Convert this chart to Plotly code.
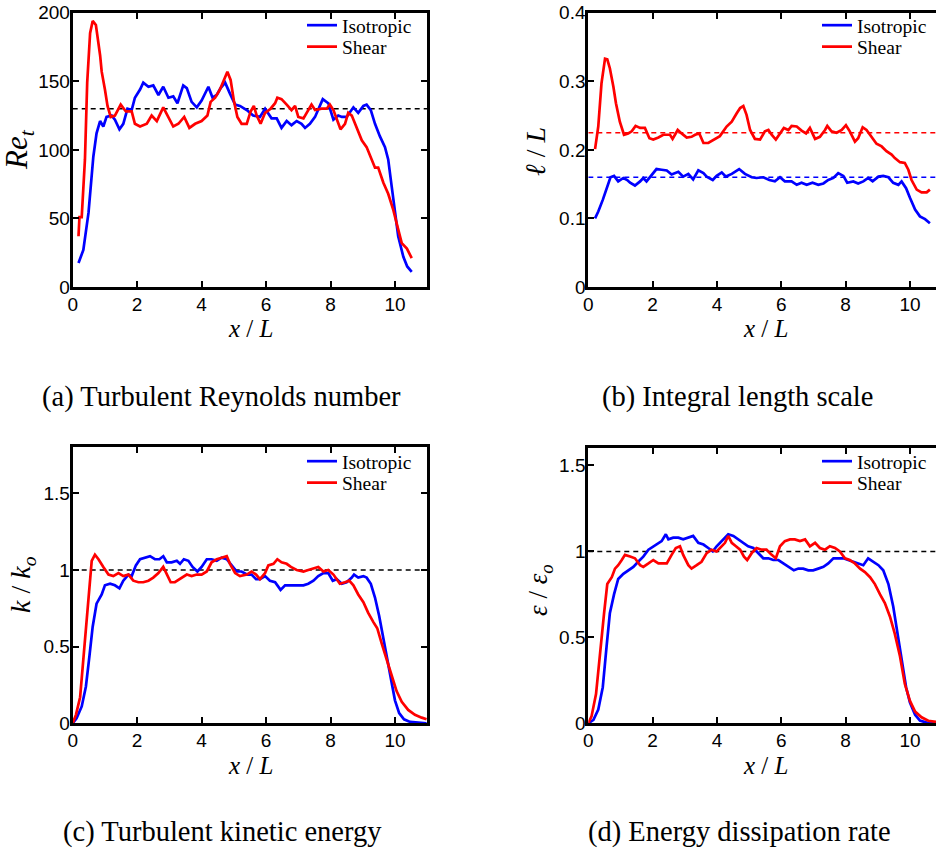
import plotly.graph_objects as go

# ---------------- data ----------------
# (a) Turbulent Reynolds number
x_re_iso = [0.18,0.33,0.49,0.64,0.74,0.85,0.95,1.05,1.21,1.31,1.45,1.57,1.70,1.83,1.93,2.09,2.19,2.35,2.50,2.66,
            2.81,2.97,3.12,3.25,3.43,3.54,3.69,3.85,4.00,4.21,4.34,4.47,4.59,4.73,4.88,5.04,5.19,5.40,5.60,5.81,
            5.97,6.17,6.33,6.48,6.64,6.79,6.95,7.10,7.21,7.36,7.52,7.62,7.76,7.93,8.09,8.24,8.35,8.50,8.71,8.86,
            9.02,9.12,9.25,9.38,9.53,9.69,9.79,9.90,10.0,10.10,10.26,10.38,10.52]
re_iso = [17.5,27,54,95,112,121,117,124,125,122,115,119,130,129,138,144,149,146,147,140,
          146,138,139,134,147,145,135,131,136,146,138,140,145,149,141,133,132,129,125,124,
          130,123,123,116,121,118,121,119,116,119,124,129,137,134,122,125,124,124,131,127,
          132,133,129,119,110,102,93,73,54,37,22,15,11]
x_re_shear = [0.18,0.21,0.28,0.38,0.45,0.54,0.62,0.72,0.85,0.90,1.00,1.08,1.18,1.31,1.49,1.65,1.83,1.93,2.09,2.30,
              2.45,2.61,2.81,2.97,3.12,3.28,3.46,3.62,3.80,4.00,4.18,4.28,4.42,4.57,4.70,4.80,4.90,5.00,5.11,5.24,
              5.40,5.52,5.62,5.71,5.83,5.97,6.14,6.28,6.35,6.48,6.64,6.79,6.90,7.00,7.16,7.31,7.41,7.52,7.72,7.88,
              7.98,8.09,8.19,8.31,8.45,8.55,8.66,8.81,8.97,9.12,9.28,9.38,9.48,9.64,9.79,9.95,10.10,10.21,10.37,10.52]
re_shear = [37,51,51,93,149,185,194,191,169,157,144,132,124,125,133,128,128,119,117,119,
            125,121,131,124,117,119,124,116,119,121,125,135,138,144,151,157,151,136,124,119,
            119,128,132,125,119,127,130,134,138,137,133,129,132,124,123,129,133,129,130,130,
            133,129,122,115,119,127,125,116,107,102,93,87,87,76,68,56,42,32,28,21]
re_ref = 130

# (b) Integral length scale
x_ell_iso = [0.21,0.31,0.45,0.57,0.69,0.80,0.93,1.09,1.21,1.30,1.45,1.61,1.71,1.81,1.97,2.12,2.28,2.44,2.59,2.80,
             2.95,3.11,3.26,3.42,3.58,3.68,3.87,3.99,4.15,4.28,4.46,4.69,4.87,5.08,5.23,5.44,5.63,5.80,5.96,6.11,
             6.32,6.48,6.63,6.79,6.97,7.15,7.31,7.46,7.62,7.77,7.93,8.05,8.24,8.39,8.55,8.70,8.84,9.02,9.17,9.33,
             9.48,9.64,9.74,9.88,10.0,10.16,10.31,10.47,10.62]
ell_iso = [0.100,0.110,0.127,0.144,0.160,0.162,0.154,0.159,0.156,0.152,0.148,0.154,0.159,0.154,0.164,0.172,0.171,0.170,0.164,0.168,
           0.161,0.165,0.157,0.170,0.166,0.161,0.156,0.162,0.167,0.161,0.165,0.172,0.165,0.160,0.159,0.160,0.156,0.154,0.160,0.154,
           0.154,0.149,0.152,0.149,0.152,0.149,0.151,0.156,0.159,0.166,0.162,0.152,0.154,0.151,0.154,0.159,0.154,0.161,0.162,0.160,
           0.152,0.149,0.154,0.144,0.130,0.113,0.103,0.099,0.093]
x_ell_shear = [0.21,0.31,0.41,0.52,0.59,0.67,0.78,0.86,0.98,1.11,1.24,1.35,1.47,1.61,1.76,1.90,2.02,2.18,2.33,2.54,
               2.62,2.78,2.90,3.06,3.21,3.32,3.45,3.58,3.73,3.89,4.09,4.30,4.46,4.61,4.72,4.82,4.92,5.03,5.18,5.34,
               5.49,5.60,5.70,5.83,5.96,6.08,6.22,6.32,6.48,6.63,6.77,6.89,7.05,7.20,7.36,7.43,7.56,7.72,7.88,8.01,
               8.13,8.29,8.39,8.53,8.65,8.81,8.96,9.12,9.27,9.43,9.53,9.69,9.84,9.95,10.05,10.21,10.36,10.52,10.62]
ell_shear = [0.201,0.234,0.297,0.333,0.332,0.319,0.292,0.268,0.241,0.222,0.224,0.227,0.235,0.232,0.232,0.217,0.215,0.218,0.222,0.222,
             0.216,0.229,0.224,0.218,0.219,0.222,0.224,0.210,0.210,0.215,0.220,0.234,0.241,0.253,0.261,0.264,0.251,0.229,0.216,0.215,
             0.227,0.229,0.222,0.215,0.224,0.232,0.229,0.235,0.234,0.228,0.224,0.232,0.216,0.219,0.229,0.235,0.227,0.225,0.229,0.236,
             0.227,0.212,0.217,0.233,0.229,0.219,0.209,0.205,0.198,0.193,0.188,0.182,0.181,0.171,0.156,0.142,0.138,0.138,0.142]
ell_ref_iso = 0.16
ell_ref_shear = 0.225

# (c) Turbulent kinetic energy
x_k_iso = [0,0.12,0.28,0.41,0.52,0.62,0.74,0.90,1.00,1.16,1.31,1.45,1.57,1.73,1.83,1.96,2.09,2.24,2.40,2.55,
           2.69,2.81,2.92,3.07,3.23,3.33,3.45,3.59,3.72,3.87,4.00,4.16,4.31,4.47,4.62,4.78,4.93,5.09,5.24,5.42,
           5.55,5.69,5.81,5.97,6.12,6.28,6.45,6.59,6.74,6.95,7.16,7.31,7.47,7.62,7.78,7.93,8.07,8.19,8.35,8.50,
           8.66,8.73,8.86,9.02,9.12,9.25,9.38,9.51,9.64,9.76,9.90,10.0,10.13,10.28,10.47,10.73,10.98]
k_iso = [0,0.033,0.11,0.24,0.44,0.63,0.78,0.84,0.90,0.91,0.90,0.88,0.93,0.97,0.96,1.03,1.07,1.08,1.09,1.07,
         1.07,1.09,1.05,1.05,1.06,1.04,1.07,1.06,1.02,0.99,1.02,1.07,1.07,1.06,1.08,1.07,1.03,0.99,0.99,0.97,
         0.97,0.94,0.94,0.96,0.93,0.92,0.87,0.90,0.90,0.90,0.90,0.91,0.93,0.96,0.98,0.98,0.93,0.94,0.91,0.92,
         0.95,0.97,0.95,0.96,0.95,0.91,0.82,0.70,0.56,0.41,0.26,0.15,0.066,0.026,0.009,0.002,0.0]
x_k_shear = [0,0.10,0.23,0.33,0.43,0.52,0.59,0.69,0.80,0.95,1.11,1.26,1.42,1.57,1.73,1.88,2.04,2.19,2.35,2.50,
             2.66,2.81,2.92,3.04,3.17,3.33,3.54,3.69,3.85,4.00,4.16,4.31,4.47,4.62,4.78,4.88,5.04,5.19,5.40,5.55,
             5.69,5.81,5.97,6.07,6.23,6.35,6.48,6.64,6.77,6.95,7.16,7.31,7.47,7.62,7.78,7.93,8.09,8.19,8.29,8.45,
             8.58,8.71,8.86,9.02,9.17,9.33,9.45,9.59,9.74,9.90,10.05,10.21,10.41,10.62,10.83,10.98]
k_shear = [0,0.055,0.17,0.41,0.70,0.92,1.06,1.10,1.07,1.02,0.97,0.96,0.98,0.96,0.97,0.93,0.92,0.92,0.93,0.95,
           0.98,1.02,0.97,0.92,0.92,0.94,0.97,0.96,0.97,0.97,0.99,1.05,1.07,1.08,1.09,1.04,0.98,0.96,0.97,0.99,
           0.97,0.94,0.98,1.03,1.04,1.07,1.05,1.04,1.02,1.00,0.99,1.00,1.01,1.02,0.99,1.00,0.97,0.94,0.91,0.92,
           0.93,0.90,0.84,0.79,0.72,0.66,0.62,0.52,0.41,0.31,0.21,0.14,0.087,0.055,0.037,0.026]
k_ref = 1.0

# (d) Energy dissipation rate
x_eps_iso = [0,0.16,0.31,0.45,0.57,0.67,0.80,0.93,1.09,1.24,1.40,1.55,1.71,1.87,2.02,2.18,2.28,2.41,2.49,2.64,
             2.80,2.95,3.11,3.26,3.42,3.58,3.73,3.87,3.99,4.20,4.35,4.51,4.66,4.82,4.97,5.13,5.28,5.44,5.60,5.75,
             5.91,6.06,6.22,6.39,6.53,6.68,6.84,6.99,7.15,7.31,7.46,7.62,7.77,7.93,8.08,8.24,8.39,8.55,8.70,8.86,
             9.02,9.17,9.33,9.48,9.61,9.74,9.88,10.0,10.16,10.31,10.52,10.81]
eps_iso = [0,0.02,0.08,0.21,0.45,0.64,0.75,0.84,0.87,0.89,0.91,0.94,0.97,1.01,1.03,1.05,1.06,1.10,1.07,1.08,
           1.08,1.07,1.08,1.09,1.05,1.04,1.02,1.00,1.03,1.07,1.10,1.09,1.07,1.05,1.03,1.02,0.99,0.96,0.96,0.95,
           0.95,0.93,0.91,0.89,0.90,0.90,0.89,0.89,0.90,0.91,0.93,0.96,0.96,0.96,0.95,0.94,0.93,0.92,0.96,0.94,
           0.92,0.89,0.81,0.68,0.52,0.37,0.21,0.12,0.05,0.016,0.004,0]
x_eps_shear = [0,0.10,0.24,0.36,0.49,0.59,0.73,0.83,0.93,1.04,1.14,1.30,1.45,1.61,1.71,1.87,2.02,2.18,2.33,2.44,
               2.59,2.72,2.85,2.95,3.11,3.21,3.37,3.52,3.68,3.83,3.99,4.15,4.25,4.35,4.46,4.59,4.72,4.84,4.94,5.08,
               5.23,5.39,5.54,5.70,5.83,5.96,6.11,6.27,6.42,6.58,6.74,6.89,7.05,7.20,7.36,7.51,7.67,7.82,7.98,8.13,
               8.29,8.45,8.60,8.76,8.91,9.07,9.22,9.38,9.53,9.69,9.84,10.0,10.16,10.36,10.57,10.81]
eps_shear = [0,0.04,0.17,0.41,0.64,0.81,0.85,0.90,0.92,0.95,0.98,0.97,0.96,0.92,0.91,0.93,0.95,0.93,0.93,0.93,
             0.98,1.02,1.03,0.98,0.92,0.90,0.92,0.94,0.99,1.01,1.00,1.03,1.05,1.09,1.05,1.03,1.01,0.97,0.95,0.99,
             1.02,1.01,1.01,0.98,0.96,1.03,1.06,1.07,1.07,1.06,1.07,1.03,1.05,1.02,1.01,1.03,1.02,1.00,0.96,0.95,
             0.93,0.90,0.88,0.85,0.81,0.75,0.70,0.62,0.52,0.39,0.23,0.13,0.068,0.035,0.015,0.008]
eps_ref = 1.0

ref_x = [0, 11]
series_names = ["Isotropic", "Shear"]
captions = ["(a) Turbulent Reynolds number", "(b) Integral length scale",
            "(c) Turbulent kinetic energy", "(d) Energy dissipation rate"]
y_titles = ["<i>Re</i><sub><i>t</i></sub>", "<i>ℓ</i> / <i>L</i>",
            "<i>k</i> / <i>k</i><sub><i>o</i></sub>", "<i>ε</i> / <i>ε</i><sub><i>o</i></sub>"]
x_title = "<i>x</i> / <i>L</i>"

# ---------------- styling ----------------
W, H = 936, 851
BLUE, RED = "#0000FF", "#FF0000"
SERIF = "Liberation Serif"
SANS = "Liberation Sans"

def px(v):  # horizontal pixel -> paper
    return v / W

def py(v):  # vertical pixel (from top) -> paper
    return 1 - v / H

fig = go.Figure()

panels = [
    dict(n="", xi=x_re_iso, yi=re_iso, xs=x_re_shear, ys=re_shear, refs=[(re_ref, "black")]),
    dict(n="2", xi=x_ell_iso, yi=ell_iso, xs=x_ell_shear, ys=ell_shear,
         refs=[(ell_ref_shear, RED), (ell_ref_iso, BLUE)]),
    dict(n="3", xi=x_k_iso, yi=k_iso, xs=x_k_shear, ys=k_shear, refs=[(k_ref, "black")]),
    dict(n="4", xi=x_eps_iso, yi=eps_iso, xs=x_eps_shear, ys=eps_shear, refs=[(eps_ref, "black")]),
]

legend_ids = [("legend", "legend2"), ("legend3", "legend4"), ("legend5", "legend6"), ("legend7", "legend8")]

for i, p in enumerate(panels):
    xa, ya = "x" + p["n"], "y" + p["n"]
    for val, col in p["refs"]:
        fig.add_trace(go.Scatter(x=ref_x, y=[val, val], mode="lines", xaxis=xa, yaxis=ya,
                                 line=dict(color=col, width=1.5, dash="5px,4px"),
                                 showlegend=False, hoverinfo="skip"))
    fig.add_trace(go.Scatter(x=p["xi"], y=p["yi"], mode="lines", name=series_names[0],
                             xaxis=xa, yaxis=ya, line=dict(color=BLUE, width=2.7),
                             legend=legend_ids[i][0]))
    fig.add_trace(go.Scatter(x=p["xs"], y=p["ys"], mode="lines", name=series_names[1],
                             xaxis=xa, yaxis=ya, line=dict(color=RED, width=2.7),
                             legend=legend_ids[i][1]))

axis_common = dict(showline=True, linecolor="black", linewidth=3, ticks="inside", ticklen=6,
                   tickwidth=2, tickcolor="black", showgrid=False, zeroline=False,
                   tickfont=dict(family=SANS, size=19, color="black"))
xcommon = dict(axis_common, ticklabelstandoff=-2)
ycommon = dict(axis_common, ticklabelstandoff=-4)

# plot-area geometry in pixels
left_x = (72.7, 427.2)
right_x = (588.3, 936)
top_y = (12.7, 287)
bot_y_c = (447.3, 723.3)
bot_y_d = (448.3, 723.3)

layout = dict(
    width=W, height=H, margin=dict(l=0, r=0, t=0, b=0, autoexpand=False),
    paper_bgcolor="white", plot_bgcolor="white",
    xaxis=dict(xcommon, domain=[px(left_x[0]), px(left_x[1])], range=[0, 11], dtick=2,
               anchor="y", mirror="ticks"),
    yaxis=dict(ycommon, domain=[py(top_y[1]), py(top_y[0])], range=[0, 200], dtick=50,
               anchor="x", mirror="ticks"),
    xaxis2=dict(xcommon, domain=[px(right_x[0]), 1.0], range=[0, 10.81], dtick=2,
                anchor="y2", mirror="ticks"),
    yaxis2=dict(ycommon, domain=[py(top_y[1]), py(top_y[0])], range=[0, 0.4], dtick=0.1,
                anchor="x2", mirror=False),
    xaxis3=dict(xcommon, domain=[px(left_x[0]), px(left_x[1])], range=[0, 11], dtick=2,
                anchor="y3", mirror="ticks"),
    yaxis3=dict(ycommon, domain=[py(bot_y_c[1]), py(bot_y_c[0])], range=[0, 1.8], dtick=0.5,
                anchor="x3", mirror="ticks"),
    xaxis4=dict(xcommon, domain=[px(right_x[0]), 1.0], range=[0, 10.81], dtick=2,
                anchor="y4", mirror="ticks"),
    yaxis4=dict(ycommon, domain=[py(bot_y_d[1]), py(bot_y_d[0])], range=[0, 1.6], dtick=0.5,
                anchor="x4", mirror=False),
)

# legends: one entry per legend so the rows sit close together like the reference
# (pixel position of each legend box's left edge and row centre)
legend_pos = [(302, 25.5), (302, 47), (817, 25.5), (817, 47),
              (302, 461.5), (302, 483), (817, 461.5), (817, 483)]
all_legs = [l for pair in legend_ids for l in pair]
for lid, (lx, ly) in zip(all_legs, legend_pos):
    layout[lid] = dict(x=px(lx), y=py(ly), xanchor="left", yanchor="middle",
                       xref="paper", yref="paper", bgcolor="rgba(0,0,0,0)", borderwidth=0,
                       font=dict(family=SERIF, size=19.5, color="black"), tracegroupgap=0)

fig.update_layout(**layout)

annotations = []
# y-axis titles
for txt, (cx, cy), fs in zip(y_titles, [(19, 150), (535, 152), (22, 585), (540, 590)], [31, 28, 28, 27]):
    annotations.append(dict(text=txt, x=px(cx), y=py(cy), xref="paper", yref="paper",
                            showarrow=False, textangle=-90, xanchor="center", yanchor="middle",
                            font=dict(family=SERIF, size=fs, color="black")))
# x-axis titles
for (cx, cy) in [(250, 328), (765, 328), (250, 765), (765, 765)]:
    annotations.append(dict(text=x_title, x=px(cx), y=py(cy), xref="paper", yref="paper",
                            showarrow=False, xanchor="center", yanchor="middle",
                            font=dict(family=SERIF, size=25, color="black")))
# captions
for txt, (cx, cy) in zip(captions, [(221, 397), (737, 397), (222, 832), (739, 832)]):
    annotations.append(dict(text=txt, x=px(cx), y=py(cy), xref="paper", yref="paper",
                            showarrow=False, xanchor="center", yanchor="middle",
                            font=dict(family=SERIF, size=28.5, color="black")))
fig.update_layout(annotations=annotations)

# the page body has a default 8px margin; remove it so the 936x851 figure fills the window exactly
fig.write_html("out.html", config={"displayModeBar": False},
               post_script="document.body.style.margin='0px';document.body.style.overflow='hidden';")
